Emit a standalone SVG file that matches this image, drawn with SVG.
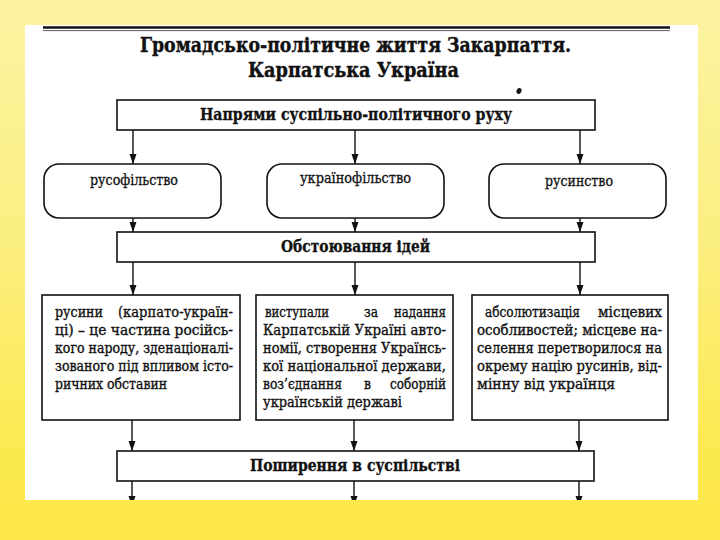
<svg xmlns="http://www.w3.org/2000/svg" width="720" height="540" viewBox="0 0 720 540">
  <defs>
    <linearGradient id="bg" x1="0" y1="0" x2="0" y2="1">
      <stop offset="0" stop-color="#fbf3a2"/>
      <stop offset="0.45" stop-color="#fbee80"/>
      <stop offset="0.85" stop-color="#fce94e"/>
      <stop offset="1" stop-color="#fde84a"/>
    </linearGradient>
    <marker id="ah" markerUnits="userSpaceOnUse" markerWidth="10" markerHeight="8" refX="10" refY="4" orient="auto">
      <path d="M0,0.5 L10,4 L0,7.5 z" fill="#111"/>
    </marker>
    <clipPath id="page">
      <rect x="25" y="25" width="673" height="475"/>
    </clipPath>
    <style>
      .box { fill: #fff; stroke: #111; stroke-width: 1.6; }
      .conn { stroke: #111; stroke-width: 1.4; fill: none; marker-end: url(#ah); }
      .title { font-family: "DejaVu Serif", "Liberation Serif", serif; font-weight: bold; fill: #111; stroke: #111; stroke-width: 0.4; }
      .head { font-family: "DejaVu Serif", "Liberation Serif", serif; font-weight: bold; font-size: 16px; fill: #111; stroke: #111; stroke-width: 0.3; text-anchor: middle; }
      .lbl { font-family: "DejaVu Serif", "Liberation Serif", serif; font-size: 14px; fill: #111; stroke: #111; stroke-width: 0.3; text-anchor: middle; }
      .body { font-family: "DejaVu Serif", "Liberation Serif", serif; font-size: 14px; fill: #111; stroke: #111; stroke-width: 0.35; }
      .end { text-anchor: end; }
    </style>
  </defs>

  <rect x="0" y="0" width="720" height="540" fill="url(#bg)"/>
  <rect x="25" y="25" width="673" height="475" fill="#fff"/>
  <line x1="43" y1="27.5" x2="670" y2="27.5" stroke="#111" stroke-width="2.4"/>
  <line x1="43" y1="30.6" x2="670" y2="30.6" stroke="#333" stroke-width="0.8"/>
  <ellipse cx="519" cy="91" rx="2.4" ry="3" fill="#111" transform="rotate(25 519 91)"/>

  <g id="title">
    <text class="title" x="355.5" y="52" font-size="21" text-anchor="middle" textLength="431" lengthAdjust="spacingAndGlyphs">Громадсько-політичне життя Закарпаття.</text>
    <text class="title" x="353.5" y="77" font-size="21" text-anchor="middle" textLength="211" lengthAdjust="spacingAndGlyphs">Карпатська Україна</text>
  </g>

  <g id="connectors" clip-path="url(#page)">
    <line class="conn" x1="133" y1="130" x2="133" y2="164"/>
    <line class="conn" x1="355" y1="130" x2="355" y2="164"/>
    <line class="conn" x1="580" y1="130" x2="580" y2="164"/>
    <line class="conn" x1="133" y1="218" x2="133" y2="232"/>
    <line class="conn" x1="355" y1="218" x2="355" y2="232"/>
    <line class="conn" x1="580" y1="218" x2="580" y2="232"/>
    <line class="conn" x1="133" y1="262" x2="133" y2="295"/>
    <line class="conn" x1="355" y1="262" x2="355" y2="295"/>
    <line class="conn" x1="580" y1="262" x2="580" y2="295"/>
    <line class="conn" x1="132" y1="420" x2="132" y2="451"/>
    <line class="conn" x1="354" y1="420" x2="354" y2="451"/>
    <line class="conn" x1="579" y1="420" x2="579" y2="451"/>
    <line class="conn" x1="132" y1="481" x2="132" y2="506"/>
    <line class="conn" x1="354" y1="481" x2="354" y2="506"/>
    <line class="conn" x1="579" y1="481" x2="579" y2="506"/>
  </g>

  <g id="napriamy">
    <rect class="box" x="117" y="100" width="478" height="30"/>
    <text class="head" x="356" y="120" textLength="312" lengthAdjust="spacingAndGlyphs">Напрями суспільно-політичного руху</text>
  </g>

  <g id="rusofilstvo">
    <rect class="box" x="44" y="164" width="177" height="54" rx="15" ry="15"/>
    <text class="lbl" x="134" y="185" textLength="88" lengthAdjust="spacingAndGlyphs">русофільство</text>
  </g>
  <g id="ukrainofilstvo">
    <rect class="box" x="267" y="164" width="177" height="54" rx="15" ry="15"/>
    <text class="lbl" x="355.5" y="183" textLength="111" lengthAdjust="spacingAndGlyphs">українофільство</text>
  </g>
  <g id="rusynstvo">
    <rect class="box" x="489" y="164" width="177" height="54" rx="15" ry="15"/>
    <text class="lbl" x="579" y="186" textLength="68" lengthAdjust="spacingAndGlyphs">русинство</text>
  </g>

  <g id="obstoiuvannia">
    <rect class="box" x="117" y="232" width="478" height="30"/>
    <text class="head" x="355.5" y="252" textLength="149" lengthAdjust="spacingAndGlyphs">Обстоювання ідей</text>
  </g>

  <g id="box-rusofily">
    <rect class="box" x="42" y="295" width="198" height="125"/>
    <text class="body" x="55" y="317" textLength="48" lengthAdjust="spacingAndGlyphs">русини</text>
    <text class="body end" x="233" y="317" textLength="115" lengthAdjust="spacingAndGlyphs">(карпато-україн-</text>
    <text class="body" x="55" y="335" textLength="178" lengthAdjust="spacingAndGlyphs">ці) – це частина російсь-</text>
    <text class="body" x="55" y="353" textLength="178" lengthAdjust="spacingAndGlyphs">кого народу, зденаціоналі-</text>
    <text class="body" x="55" y="371" textLength="178" lengthAdjust="spacingAndGlyphs">зованого під впливом істо-</text>
    <text class="body" x="55" y="389" textLength="112" lengthAdjust="spacingAndGlyphs">ричних обставин</text>
  </g>

  <g id="box-ukrainofily">
    <rect class="box" x="256" y="295" width="197" height="125"/>
    <text class="body" x="265" y="317" textLength="64" lengthAdjust="spacingAndGlyphs">виступали</text>
    <text class="body" x="364" y="317" textLength="14" lengthAdjust="spacingAndGlyphs">за</text>
    <text class="body end" x="446" y="317" textLength="52" lengthAdjust="spacingAndGlyphs">надання</text>
    <text class="body" x="263" y="335" textLength="183" lengthAdjust="spacingAndGlyphs">Карпатській Україні авто-</text>
    <text class="body" x="263" y="353" textLength="183" lengthAdjust="spacingAndGlyphs">номії, створення Українсь-</text>
    <text class="body" x="263" y="371" textLength="183" lengthAdjust="spacingAndGlyphs">кої національної держави,</text>
    <text class="body" x="263" y="389" textLength="79" lengthAdjust="spacingAndGlyphs">воз’єднання</text>
    <text class="body" x="364" y="389" textLength="7" lengthAdjust="spacingAndGlyphs">в</text>
    <text class="body end" x="446" y="389" textLength="56" lengthAdjust="spacingAndGlyphs">соборній</text>
    <text class="body" x="263" y="407" textLength="139" lengthAdjust="spacingAndGlyphs">українській державі</text>
  </g>

  <g id="box-rusyny">
    <rect class="box" x="472" y="295" width="196" height="125"/>
    <text class="body" x="485" y="317" textLength="95" lengthAdjust="spacingAndGlyphs">абсолютизація</text>
    <text class="body end" x="662" y="317" textLength="64" lengthAdjust="spacingAndGlyphs">місцевих</text>
    <text class="body" x="477" y="335" textLength="185" lengthAdjust="spacingAndGlyphs">особливостей; місцеве на-</text>
    <text class="body" x="477" y="353" textLength="185" lengthAdjust="spacingAndGlyphs">селення перетворилося на</text>
    <text class="body" x="477" y="371" textLength="185" lengthAdjust="spacingAndGlyphs">окрему націю русинів, від-</text>
    <text class="body" x="477" y="389" textLength="138" lengthAdjust="spacingAndGlyphs">мінну від українця</text>
  </g>

  <g id="poshyrennia">
    <rect class="box" x="117" y="451" width="477" height="30"/>
    <text class="head" x="355" y="471" textLength="210" lengthAdjust="spacingAndGlyphs">Поширення в суспільстві</text>
  </g>
</svg>
